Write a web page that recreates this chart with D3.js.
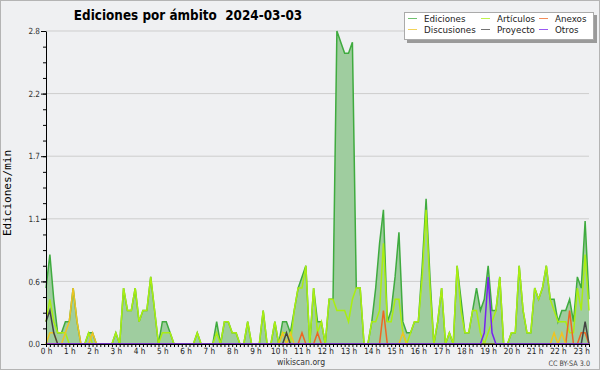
<!DOCTYPE html>
<html>
<head>
<meta charset="utf-8">
<script src="https://cdn.jsdelivr.net/npm/d3@7"></script>
<style>
body { margin: 0; background: #fff; }
svg { display: block; }
</style>
</head>
<body>
<svg id="chart" width="600" height="370"></svg>
<script>

// une valeur toutes les 10 minutes, de 0 h 00 a 23 h 20 (6 par ligne = 1 heure)
const ediciones = [
    0.5, 0.8, 0.4, 0.1, 0.1, 0.2,
    0.2, 0.5, 0.2, 0, 0, 0.1,
    0.1, 0, 0, 0, 0, 0,
    0.1, 0, 0.5, 0.3, 0.3, 0.5,
    0.2, 0.3, 0.3, 0.6, 0.3, 0,
    0.2, 0.2, 0.1, 0, 0, 0,
    0, 0, 0, 0.1, 0, 0,
    0, 0, 0.2, 0, 0.2, 0.2,
    0.1, 0.1, 0, 0, 0.2, 0,
    0, 0, 0.3, 0, 0, 0.2,
    0, 0.2, 0.2, 0.1, 0.3, 0.5,
    0.6, 0.7, 0, 0.5, 0.2, 0.2,
    0, 0.4, 0.4, 2.8, 2.7, 2.6,
    2.6, 2.7, 0.5, 0.5, 0, 0,
    0.2, 0.5, 0.9, 1.2, 0.2, 0.3,
    0.6, 1.0, 0.2, 0.1, 0.1, 0.2,
    0.2, 0.7, 1.3, 0.6, 0, 0.2,
    0.5, 0, 0.1, 0, 0.7, 0.4,
    0.1, 0.1, 0.3, 0.5, 0.3, 0.4,
    0.7, 0.3, 0.3, 0.6, 0, 0,
    0.1, 0.1, 0.7, 0.3, 0.1, 0.1,
    0.5, 0.4, 0.5, 0.7, 0.4, 0.4,
    0.2, 0.3, 0.3, 0.4, 0.2, 0.6,
    0.5, 1.1, 0.4
];

const articulos = [
    0.2, 0.4, 0.2, 0.1, 0.1, 0.1,
    0, 0, 0, 0, 0, 0.1,
    0, 0, 0, 0, 0, 0,
    0.1, 0, 0.5, 0.3, 0.3, 0.5,
    0.2, 0.3, 0.3, 0.6, 0.3, 0,
    0.1, 0.1, 0.1, 0, 0, 0,
    0, 0, 0, 0.1, 0, 0,
    0, 0, 0.1, 0, 0.2, 0.2,
    0.1, 0.1, 0, 0, 0.2, 0,
    0, 0, 0.3, 0, 0, 0.2,
    0, 0.1, 0.1, 0, 0.3, 0.5,
    0.5, 0.7, 0, 0.5, 0.1, 0.2,
    0, 0.4, 0.4, 0.3, 0.3, 0.3,
    0.2, 0.4, 0.5, 0.5, 0, 0,
    0.2, 0.2, 0.3, 0.9, 0.2, 0.2,
    0.4, 0.4, 0.1, 0, 0.1, 0.2,
    0.2, 0.6, 1.2, 0.5, 0, 0.2,
    0.5, 0, 0.1, 0, 0.7, 0.3,
    0.1, 0.1, 0.3, 0.3, 0.1, 0,
    0.1, 0.2, 0.3, 0.6, 0, 0,
    0.1, 0.1, 0.7, 0.3, 0.1, 0.1,
    0.5, 0.4, 0.5, 0.7, 0.4, 0.3,
    0.2, 0.2, 0.2, 0.1, 0.1, 0.5,
    0.3, 0.8, 0.3
];

const anexos = [
    0, 0, 0, 0, 0, 0,
    0, 0, 0, 0, 0, 0,
    0, 0, 0, 0, 0, 0,
    0, 0, 0, 0, 0, 0,
    0, 0, 0, 0, 0, 0,
    0, 0, 0, 0, 0, 0,
    0, 0, 0, 0, 0, 0,
    0, 0, 0, 0, 0, 0,
    0, 0, 0, 0, 0, 0,
    0, 0, 0, 0, 0, 0,
    0, 0, 0, 0, 0, 0,
    0.1, 0, 0, 0, 0.1, 0,
    0, 0, 0, 0, 0, 0,
    0, 0, 0, 0, 0, 0,
    0, 0, 0, 0.3, 0, 0,
    0, 0, 0, 0, 0, 0,
    0, 0, 0, 0, 0, 0,
    0, 0, 0, 0, 0, 0,
    0, 0, 0, 0, 0, 0,
    0, 0, 0, 0, 0, 0,
    0, 0, 0, 0, 0, 0,
    0, 0, 0, 0, 0, 0,
    0, 0, 0, 0.3, 0, 0,
    0.1, 0.1, 0
];

const discusiones = [
    0, 0.1, 0.1, 0, 0, 0.1,
    0.2, 0.5, 0.2, 0, 0, 0,
    0.1, 0, 0, 0, 0, 0,
    0, 0, 0, 0, 0, 0,
    0, 0, 0, 0, 0, 0,
    0, 0, 0, 0, 0, 0,
    0, 0, 0, 0, 0, 0,
    0, 0, 0, 0, 0, 0,
    0, 0, 0, 0, 0, 0,
    0, 0, 0, 0, 0, 0,
    0, 0.1, 0, 0.1, 0, 0,
    0, 0, 0, 0, 0, 0,
    0, 0, 0, 0, 0, 0,
    0, 0, 0, 0, 0, 0,
    0, 0, 0, 0, 0, 0,
    0, 0, 0.1, 0, 0, 0,
    0, 0, 0, 0, 0, 0,
    0, 0, 0, 0, 0, 0,
    0, 0, 0, 0, 0, 0,
    0, 0, 0, 0, 0, 0,
    0, 0, 0, 0, 0, 0,
    0, 0, 0, 0, 0, 0.1,
    0, 0.1, 0, 0, 0, 0,
    0, 0, 0
];

const proyecto = [
    0.2, 0.3, 0.1, 0, 0, 0,
    0, 0, 0, 0, 0, 0,
    0, 0, 0, 0, 0, 0,
    0, 0, 0, 0, 0, 0,
    0, 0, 0, 0, 0, 0,
    0, 0, 0, 0, 0, 0,
    0, 0, 0, 0, 0, 0,
    0, 0, 0, 0, 0, 0,
    0, 0, 0, 0, 0, 0,
    0, 0, 0, 0, 0, 0,
    0, 0, 0.1, 0, 0, 0,
    0, 0, 0, 0, 0, 0,
    0, 0, 0, 0, 0, 0,
    0, 0, 0, 0, 0, 0,
    0, 0, 0, 0, 0, 0,
    0, 0, 0, 0, 0, 0,
    0, 0, 0, 0, 0, 0,
    0, 0, 0, 0, 0, 0,
    0, 0, 0, 0, 0, 0,
    0, 0, 0, 0, 0, 0,
    0, 0, 0, 0, 0, 0,
    0, 0, 0, 0, 0, 0,
    0, 0, 0, 0, 0, 0,
    0, 0.2, 0
];

const otros = [
    0, 0, 0, 0, 0, 0,
    0, 0, 0, 0, 0, 0,
    0, 0, 0, 0, 0, 0,
    0, 0, 0, 0, 0, 0,
    0, 0, 0, 0, 0, 0,
    0, 0, 0, 0, 0, 0,
    0, 0, 0, 0, 0, 0,
    0, 0, 0, 0, 0, 0,
    0, 0, 0, 0, 0, 0,
    0, 0, 0, 0, 0, 0,
    0, 0, 0, 0, 0, 0,
    0, 0, 0, 0, 0, 0,
    0, 0, 0, 0, 0, 0,
    0, 0, 0, 0, 0, 0,
    0, 0, 0, 0, 0, 0,
    0, 0, 0, 0, 0, 0,
    0, 0, 0, 0, 0, 0,
    0, 0, 0, 0, 0, 0,
    0, 0, 0, 0, 0, 0.1,
    0.6, 0.1, 0, 0, 0, 0,
    0, 0, 0, 0, 0, 0,
    0, 0, 0, 0, 0, 0,
    0, 0, 0, 0, 0, 0,
    0, 0, 0
];

const yMajorTicks = [0, 0.56, 1.12, 1.68, 2.24, 2.8];
const hourLabels = d3.range(24).map(h => h + " h");

// nom, couleur, donnees ; l'ordre est celui de la legende (ligne par ligne)
const series = [
    ["Ediciones", "#3fab3f", ediciones],
    ["Artículos", "#aaee11", articulos],
    ["Anexos", "#ee6622", anexos],
    ["Discusiones", "#eec422", discusiones],
    ["Proyecto", "#444444", proyecto],
    ["Otros", "#7722ee", otros]
];

const WIDTH = 600, HEIGHT = 370;
const plotLeft = 46, plotRight = 589, plotTop = 31, plotBottom = 344;
const labelFont = "'DejaVu Sans', sans-serif";
const squeeze = 0.86; // la police d'origine est etroite (condensed)

let svg = d3.select("#chart");

// texte resserre horizontalement
function narrowText(parent, x, y, txt, size, anchor, ratio) {
    return parent.append("text")
        .attr("transform", "translate(" + x + "," + y + ") scale(" + (ratio || squeeze) + ",1)")
        .attr("text-anchor", anchor || "start")
        .attr("font-family", labelFont)
        .attr("font-size", size)
        .style("white-space", "pre")
        .text(txt);
}

svg.append("rect")
    .attr("x", 0.5).attr("y", 0.5)
    .attr("width", WIDTH - 1).attr("height", HEIGHT - 1)
    .attr("fill", "#eff0f2")
    .attr("stroke", "#b4b4b4");

let x = d3.scaleLinear().domain([0, ediciones.length - 1]).range([plotLeft, plotRight]);
let y = d3.scaleLinear().domain([0, 2.8]).range([plotBottom, plotTop]);

// grille horizontale
svg.append("g")
    .selectAll("line")
    .data(yMajorTicks.slice(1))
    .enter().append("line")
    .attr("x1", plotLeft).attr("x2", plotRight)
    .attr("y1", d => y(d)).attr("y2", d => y(d))
    .attr("stroke", "#cdcdcd")
    .attr("stroke-width", 1);

let area = d3.area()
    .x((d, i) => x(i))
    .y0(y(0))
    .y1(d => y(d));

let lineGen = d3.line()
    .x((d, i) => x(i))
    .y(d => y(d));

svg.append("path")
    .attr("d", area(ediciones))
    .attr("fill", "#9fcd9f");

series.forEach(function (s) {
    svg.append("path")
        .attr("class", "line")
        .attr("d", lineGen(s[2]))
        .attr("fill", "none")
        .style("stroke", s[1])
        .attr("stroke-width", 1.5)
        .attr("stroke-linejoin", "miter");
});

// axe vertical : graduations majeures + mineures
let yMinor = d3.range(0, 21).map(i => i * 0.14);

svg.append("g")
    .attr("transform", "translate(" + plotLeft + ",0)")
    .call(d3.axisLeft(y).tickValues(yMinor).tickSize(3).tickFormat(""))
    .call(g => g.select(".domain").remove());

let yAxis = svg.append("g")
    .attr("transform", "translate(" + plotLeft + ",0)")
    .call(d3.axisLeft(y).tickValues(yMajorTicks).tickSize(5).tickSizeOuter(0).tickFormat(d3.format(".1f")));

yAxis.selectAll("text")
    .attr("font-family", labelFont)
    .attr("font-size", 8.5)
    .attr("fill", "#333")
    .attr("x", -6 / squeeze)
    .attr("transform", "scale(" + squeeze + ",1)");

// axe horizontal, un trait toutes les 10 minutes, etiquette a chaque heure
let xAxis = svg.append("g")
    .attr("transform", "translate(0," + plotBottom + ")")
    .call(d3.axisBottom(x)
        .tickValues(d3.range(ediciones.length))
        .tickSize(3)
        .tickSizeOuter(0)
        .tickFormat(i => i % 6 === 0 ? hourLabels[i / 6] : ""));

xAxis.selectAll("text")
    .attr("font-family", labelFont)
    .attr("font-size", 8.5)
    .attr("fill", "#222")
    .attr("y", 4)
    .attr("transform", "scale(" + squeeze + ",1)");

svg.selectAll(".domain").attr("stroke", "#000");
svg.selectAll(".tick line").attr("stroke", "#000");

narrowText(svg, 188, 20, "Ediciones por ámbito  2024-03-03", 14, "middle")
    .attr("font-weight", "bold");

svg.append("text")
    .attr("transform", "translate(11,193) rotate(-90)")
    .attr("text-anchor", "middle")
    .attr("font-family", "'DejaVu Sans Mono', monospace")
    .attr("font-size", 11)
    .text("Ediciones/min");

// legende
let legend = svg.append("g");
legend.append("rect")
    .attr("x", 407).attr("y", 15).attr("width", 190).attr("height", 28)
    .attr("fill", "#9a9a9a");
legend.append("rect")
    .attr("x", 404.5).attr("y", 12.5).attr("width", 189).attr("height", 27)
    .attr("fill", "#fff")
    .attr("stroke", "#aaa");

let colX = [408, 481, 539];
series.forEach(function (s, i) {
    let cx = colX[i % 3];
    let cy = i < 3 ? 18.5 : 29.5;
    legend.append("line")
        .attr("x1", cx).attr("x2", cx + 9)
        .attr("y1", cy).attr("y2", cy)
        .attr("stroke", s[1])
        .attr("stroke-opacity", 0.75)
        .attr("stroke-width", 1);
    narrowText(legend, cx + 16, cy + 3.2, s[0], 9.4, "start", 0.93)
        .attr("fill", "#222");
});

narrowText(svg, 301, 365, "wikiscan.org", 9, "middle")
    .attr("fill", "#333");

narrowText(svg, 590, 366, "CC BY-SA 3.0", 7.5, "end")
    .attr("fill", "#444");

</script>
</body>
</html>
